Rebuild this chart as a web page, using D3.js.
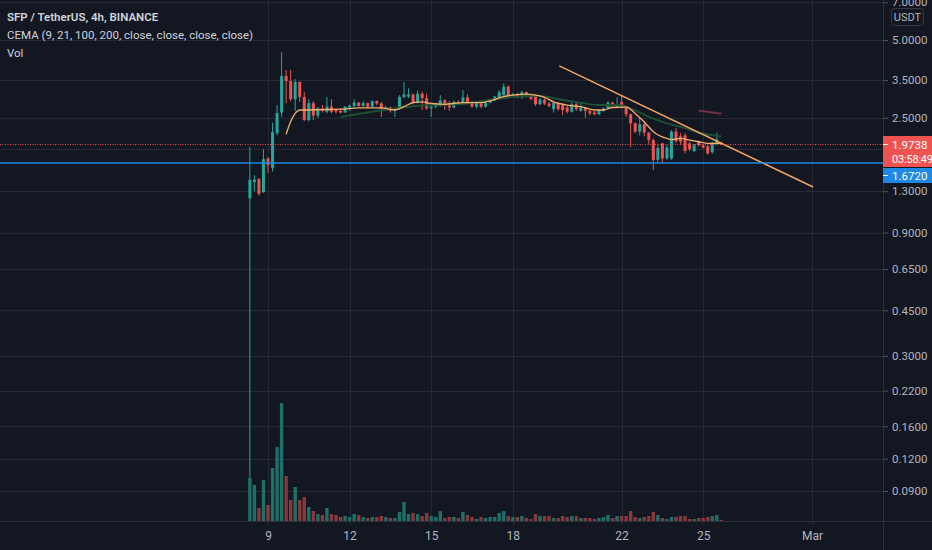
<!DOCTYPE html>
<html lang="en">
<head>
<meta charset="utf-8">
<title>SFP / TetherUS, 4h, BINANCE</title>
<style>
  html, body { margin: 0; padding: 0; background: #131722; overflow: hidden; }
  svg { display: block; }
</style>
</head>
<body>
<div id="chart"></div>
<script src="https://d3js.org/d3.v7.min.js"></script>
<script>
// 4h candles, first one opens Feb 8 2021 08:00 UTC
var firstBar = Date.UTC(2021, 1, 8, 8);
var barMs = 4 * 3600 * 1000;

var opens = [1.22, 1.41, 1.45, 1.29, 1.74, 1.60, 2.18, 2.62, 3.63, 3.47,
  2.95, 3.44, 3.01, 2.45, 2.85, 2.55, 2.72, 2.64, 2.76, 2.68,
  2.66, 2.62, 2.74, 2.78, 2.86, 2.78, 2.85, 2.76, 2.90, 2.84,
  2.70, 2.74, 2.66, 2.70, 3.01, 3.02, 3.08, 2.86, 3.10, 2.98,
  2.72, 2.76, 2.78, 2.92, 2.84, 2.74, 2.88, 2.82, 3.00, 2.88,
  2.76, 2.84, 2.76, 2.86, 2.92, 3.00, 3.06, 3.30, 3.06, 3.08,
  3.00, 3.14, 3.04, 3.06, 2.82, 2.94, 2.84, 2.70, 2.86, 2.80,
  2.74, 2.64, 2.82, 2.66, 2.74, 2.66, 2.62, 2.58, 2.66, 2.72,
  2.86, 2.76, 2.88, 2.76, 2.58, 2.38, 2.21, 2.36, 2.19, 2.05,
  1.72, 1.99, 1.74, 1.74, 2.21, 2.12, 2.14, 1.99, 1.86, 2.02,
  1.96, 1.94, 1.84, 1.99, 2.00];
var highs = [1.93, 1.50, 1.46, 1.89, 1.76, 2.39, 2.80, 4.49, 3.83, 3.83,
  3.53, 3.46, 3.15, 2.95, 2.90, 2.75, 2.80, 3.01, 2.95, 2.72,
  2.72, 2.78, 2.82, 2.95, 2.88, 2.90, 2.86, 2.92, 2.92, 2.88,
  2.78, 2.76, 2.72, 3.06, 3.44, 3.25, 3.10, 3.18, 3.16, 3.10,
  2.80, 2.84, 3.06, 2.96, 2.90, 2.92, 2.92, 3.20, 3.08, 2.90,
  2.88, 2.92, 2.88, 2.94, 3.04, 3.20, 3.40, 3.34, 3.12, 3.12,
  3.18, 3.16, 3.08, 3.08, 2.98, 2.97, 2.88, 2.88, 2.88, 2.84,
  2.78, 2.86, 2.86, 2.88, 2.76, 2.68, 2.66, 2.70, 2.74, 2.90,
  2.88, 3.00, 3.04, 2.78, 2.60, 2.40, 2.50, 2.38, 2.20, 2.08,
  1.97, 2.00, 1.96, 2.24, 2.28, 2.18, 2.18, 2.02, 1.98, 2.04,
  1.98, 1.96, 2.02, 2.19, 2.02];
var lows = [0.10, 1.30, 1.25, 1.28, 1.53, 1.55, 2.14, 2.52, 2.85, 2.90,
  2.66, 2.88, 2.43, 2.42, 2.45, 2.50, 2.62, 2.60, 2.60, 2.60,
  2.60, 2.62, 2.66, 2.74, 2.76, 2.76, 2.72, 2.76, 2.80, 2.52,
  2.66, 2.62, 2.52, 2.68, 2.98, 2.98, 2.82, 2.84, 2.68, 2.68,
  2.52, 2.72, 2.76, 2.68, 2.66, 2.72, 2.80, 2.80, 2.86, 2.74,
  2.72, 2.72, 2.74, 2.84, 2.90, 2.98, 3.04, 2.98, 3.00, 2.98,
  2.96, 3.00, 2.92, 2.78, 2.80, 2.80, 2.74, 2.62, 2.66, 2.56,
  2.60, 2.62, 2.66, 2.64, 2.50, 2.56, 2.56, 2.56, 2.64, 2.70,
  2.76, 2.74, 2.72, 2.52, 1.93, 2.18, 2.14, 2.12, 1.97, 1.57,
  1.68, 1.67, 1.72, 1.72, 2.00, 1.96, 1.82, 1.86, 1.84, 1.94,
  1.90, 1.80, 1.82, 1.97, 1.96];
var closes = [1.44, 1.44, 1.27, 1.73, 1.64, 2.20, 2.61, 3.63, 3.47, 2.95,
  3.44, 3.01, 2.45, 2.85, 2.55, 2.72, 2.66, 2.76, 2.64, 2.64,
  2.62, 2.76, 2.78, 2.86, 2.78, 2.85, 2.76, 2.90, 2.84, 2.70,
  2.74, 2.66, 2.70, 3.01, 3.08, 3.08, 2.86, 3.10, 2.98, 2.72,
  2.76, 2.82, 2.92, 2.82, 2.74, 2.88, 2.82, 3.00, 2.88, 2.76,
  2.84, 2.76, 2.86, 2.92, 3.02, 3.14, 3.30, 3.06, 3.08, 3.00,
  3.14, 3.04, 2.96, 2.82, 2.94, 2.84, 2.78, 2.86, 2.70, 2.68,
  2.64, 2.82, 2.70, 2.74, 2.66, 2.60, 2.58, 2.68, 2.72, 2.86,
  2.80, 2.82, 2.76, 2.58, 2.38, 2.21, 2.36, 2.19, 2.05, 1.72,
  1.91, 1.74, 1.92, 2.21, 2.03, 2.02, 1.86, 1.89, 1.96, 1.96,
  1.92, 1.82, 2.00, 2.06, 1.9738];
// volume, millions of SFP
var volumes = [4.3, 3.6, 1.3, 4.1, 1.6, 5.3, 7.4, 11.8, 4.5, 2.1,
  3.4, 2.1, 2.4, 1.4, 1.0, 0.7, 0.6, 1.3, 0.7, 0.6,
  0.4, 0.5, 0.4, 0.7, 0.6, 0.4, 0.3, 0.4, 0.4, 0.5,
  0.4, 0.3, 0.3, 0.9, 1.9, 0.7, 0.8, 0.7, 0.5, 0.8,
  0.5, 0.4, 1.0, 0.3, 0.4, 0.4, 0.3, 0.9, 0.6, 0.4,
  0.2, 0.4, 0.3, 0.4, 0.4, 0.8, 1.0, 0.5, 0.4, 0.4,
  0.5, 0.3, 0.2, 0.7, 0.5, 0.5, 0.5, 0.3, 0.3, 0.5,
  0.4, 0.5, 0.5, 0.3, 0.3, 0.3, 0.2, 0.3, 0.4, 0.6,
  0.3, 0.5, 0.5, 0.5, 1.0, 0.4, 0.3, 0.4, 0.5, 0.9,
  0.6, 0.3, 0.2, 0.4, 0.4, 0.5, 0.5, 0.2, 0.2, 0.3,
  0.3, 0.4, 0.5, 0.6, 0.1];

// CEMA lines: [bar, value]
var ema9 = [[8, 2.16], [9, 2.42], [10, 2.60], [11, 2.68], [12, 2.68], [16, 2.69], [20, 2.70],
  [24, 2.73], [29, 2.73], [32, 2.68], [34, 2.76], [36, 2.86], [38, 2.88], [40, 2.84],
  [43, 2.82], [47, 2.86], [51, 2.86], [53, 2.91], [56, 3.02], [58, 3.06], [61, 3.09],
  [63, 3.06], [65, 3.00], [67, 2.88], [70, 2.80], [73, 2.76], [76, 2.68], [78, 2.68],
  [80, 2.74], [83, 2.75], [85, 2.60], [87, 2.41], [89, 2.21], [92, 2.08], [93, 2.06],
  [95, 2.08], [97, 2.05], [99, 2.02], [101, 1.99], [104, 1.99]];
var ema21 = [[20, 2.52], [27, 2.64], [35, 2.76], [40, 2.80], [47, 2.83], [54, 2.95],
  [62, 3.04], [65, 3.02], [69, 2.93], [73, 2.86], [77, 2.80], [81, 2.80], [84, 2.72],
  [88, 2.52], [92, 2.38], [96, 2.28], [99, 2.19], [103, 2.13], [104, 2.12]];
var ema100 = [[99, 2.67], [104, 2.59]];

// drawn trend line
var trendLine = [[Date.UTC(2021, 1, 19, 17), 3.97], [Date.UTC(2021, 2, 1, 1), 1.35]];

var lastPrice = 1.9738;
var lastTimer = "03:58:49";
var bluePrice = 1.6720;

var gridPrices = [7, 5, 3.5, 2.5, 1.9, 1.3, 0.9, 0.65, 0.45, 0.3, 0.22, 0.16, 0.12, 0.09];
var priceTicks = [7, 5, 3.5, 2.5, 1.3, 0.9, 0.65, 0.45, 0.3, 0.22, 0.16, 0.12, 0.09];
var timeTicks = [Date.UTC(2021, 1, 9), Date.UTC(2021, 1, 12), Date.UTC(2021, 1, 15),
  Date.UTC(2021, 1, 18), Date.UTC(2021, 1, 22), Date.UTC(2021, 1, 25), Date.UTC(2021, 2, 1)];
var timeLabels = ["9", "12", "15", "18", "22", "25", "Mar"];

var W = 932, H = 550, plotW = 883, plotH = 521;
var up = "#26a69a", down = "#ef5350", blue = "#1e88e5";
var font = "'Trebuchet MS', Roboto, 'Noto Sans', sans-serif";

var bars = closes.map(function(c, i) {
  return { t: firstBar + i * barMs, o: opens[i], h: highs[i], l: lows[i], c: c, v: volumes[i] };
});
function barTime(i) { return firstBar + i * barMs; }

var x = d3.scaleUtc()
  .domain([new Date(Date.UTC(2021, 1, 9)), new Date(Date.UTC(2021, 2, 1))])
  .range([268, 812]);
var y = d3.scaleLog().domain([0.09, 5]).range([491, 40]);
var yVol = d3.scaleLinear().domain([0, 12]).range([plotH, plotH - 120]);

var svg = d3.select("#chart").append("svg")
  .attr("width", W)
  .attr("height", H)
  .style("font-family", font);

svg.append("rect").attr("width", W).attr("height", H).attr("fill", "#131722");

svg.append("clipPath").attr("id", "plot")
  .append("rect").attr("width", plotW).attr("height", plotH);

var plot = svg.append("g").attr("clip-path", "url(#plot)");

// grid
plot.selectAll(".hgrid").data(gridPrices).enter().append("line")
  .attr("x1", 0).attr("x2", plotW)
  .attr("y1", function(d) { return Math.round(y(d)) + 0.5; })
  .attr("y2", function(d) { return Math.round(y(d)) + 0.5; })
  .attr("stroke", "#252935");
plot.selectAll(".vgrid").data(timeTicks).enter().append("line")
  .attr("x1", function(d) { return Math.round(x(d)) + 0.5; })
  .attr("x2", function(d) { return Math.round(x(d)) + 0.5; })
  .attr("y1", 0).attr("y2", plotH)
  .attr("stroke", "#252935");

// candles
var candle = plot.selectAll(".candle").data(bars).enter().append("g");
candle.append("line")
  .attr("x1", function(d) { return x(d.t); })
  .attr("x2", function(d) { return x(d.t); })
  .attr("y1", function(d) { return y(d.h); })
  .attr("y2", function(d) { return y(d.l); })
  .attr("stroke", function(d) { return d.c >= d.o ? up : down; })
  .attr("stroke-width", 1);
candle.append("rect")
  .attr("x", function(d) { return x(d.t) - 1.5; })
  .attr("width", 3)
  .attr("y", function(d) { return y(Math.max(d.o, d.c)); })
  .attr("height", function(d) { return Math.max(1, Math.abs(y(d.o) - y(d.c))); })
  .attr("fill", function(d) { return d.c >= d.o ? up : down; });

// volume on top, bottom of the pane
plot.selectAll(".vol").data(bars).enter().append("rect")
  .attr("x", function(d) { return x(d.t) - 1.7; })
  .attr("width", 3.4)
  .attr("y", function(d) { return yVol(d.v); })
  .attr("height", function(d) { return plotH - yVol(d.v); })
  .attr("fill", function(d) { return d.c >= d.o ? "#1f6f69" : "#87393c"; });

// CEMA lines
var emaLine = d3.line()
  .x(function(d) { return x(barTime(d[0])); })
  .y(function(d) { return y(d[1]); })
  .curve(d3.curveMonotoneX);
plot.append("path").attr("d", emaLine(ema21))
  .attr("fill", "none").attr("stroke", "#1c4f33").attr("stroke-width", 2);
plot.append("path").attr("d", emaLine(ema100))
  .attr("fill", "none").attr("stroke", "#6b3440").attr("stroke-width", 2);
plot.append("path").attr("d", emaLine(ema9))
  .attr("fill", "none").attr("stroke", "#f3b06a").attr("stroke-width", 1.3);

// trend line
plot.append("line")
  .attr("x1", x(trendLine[0][0])).attr("y1", y(trendLine[0][1]))
  .attr("x2", x(trendLine[1][0])).attr("y2", y(trendLine[1][1]))
  .attr("stroke", "#f0a55f").attr("stroke-width", 1.5);

// price lines
plot.append("line")
  .attr("x1", 0).attr("x2", plotW)
  .attr("y1", Math.round(y(lastPrice)) + 0.5).attr("y2", Math.round(y(lastPrice)) + 0.5)
  .attr("stroke", down).attr("stroke-dasharray", "1,1.5");
plot.append("line")
  .attr("x1", 0).attr("x2", W)
  .attr("y1", Math.round(y(bluePrice))).attr("y2", Math.round(y(bluePrice)))
  .attr("stroke", blue).attr("stroke-width", 1.3);

// borders
svg.append("line").attr("x1", 0).attr("x2", W).attr("y1", plotH + 0.5).attr("y2", plotH + 0.5)
  .attr("stroke", "#2a2e39");
svg.append("line").attr("x1", plotW + 0.5).attr("x2", plotW + 0.5).attr("y1", 0).attr("y2", H)
  .attr("stroke", "#2a2e39");

// price scale
var yAxis = svg.append("g")
  .attr("transform", "translate(" + plotW + ",0)")
  .call(d3.axisRight(y).tickValues(priceTicks).tickFormat(d3.format(".4f")).tickSize(5).tickPadding(4));
yAxis.select(".domain").remove();
yAxis.selectAll("line").attr("stroke", "#50535e");
yAxis.selectAll("text").attr("fill", "#b2b5be").attr("font-size", 11.5).attr("font-family", font);

// time scale
var xAxis = svg.append("g")
  .attr("transform", "translate(0," + plotH + ")")
  .call(d3.axisBottom(x).tickValues(timeTicks.map(function(d) { return new Date(d); }))
    .tickFormat(function(d, i) { return timeLabels[i]; }).tickSize(4).tickPadding(6));
xAxis.select(".domain").remove();
xAxis.selectAll("line").attr("stroke", "#2a2e39");
xAxis.selectAll("text").attr("fill", "#b2b5be").attr("font-size", 12).attr("font-family", font);

// USDT badge
svg.append("rect").attr("x", 891.5).attr("y", 8.5).attr("width", 32).attr("height", 17).attr("rx", 3)
  .attr("fill", "#131722").attr("stroke", "#363a45");
svg.append("text").attr("x", 907.5).attr("y", 21).attr("text-anchor", "middle")
  .attr("fill", "#b2b5be").attr("font-size", 11).text("USDT");

// last price label
var ly = Math.round(y(lastPrice));
svg.append("rect").attr("x", plotW).attr("y", ly - 8).attr("width", W - plotW).attr("height", 31)
  .attr("fill", down);
svg.append("line").attr("x1", plotW).attr("x2", plotW + 5).attr("y1", ly + 0.5).attr("y2", ly + 0.5)
  .attr("stroke", "#ffffff");
svg.append("text").attr("x", 892).attr("y", ly + 4.5).attr("fill", "#ffffff").attr("font-size", 11.5)
  .text(lastPrice.toFixed(4));
svg.append("text").attr("x", 892).attr("y", ly + 19).attr("fill", "#ffffff").attr("font-size", 11)
  .attr("letter-spacing", -0.2).text(lastTimer);

// blue line label, pushed below the last price label
svg.append("rect").attr("x", plotW).attr("y", ly + 24).attr("width", W - plotW).attr("height", 15)
  .attr("fill", blue);
svg.append("line").attr("x1", plotW).attr("x2", plotW + 5).attr("y1", ly + 31.5).attr("y2", ly + 31.5)
  .attr("stroke", "#ffffff");
svg.append("text").attr("x", 892).attr("y", ly + 35.5).attr("fill", "#ffffff").attr("font-size", 11.5)
  .text(bluePrice.toFixed(4));

// legend
svg.append("text").attr("x", 7).attr("y", 21).attr("fill", "#d1d4dc").attr("font-size", 11.5)
  .attr("font-weight", 600).text("SFP / TetherUS, 4h, BINANCE");
svg.append("text").attr("x", 7).attr("y", 39).attr("fill", "#d1d4dc").attr("font-size", 11.5)
  .text("CEMA (9, 21, 100, 200, close, close, close, close)");
svg.append("text").attr("x", 7).attr("y", 57).attr("fill", "#d1d4dc").attr("font-size", 11.5)
  .text("Vol");
</script>
</body>
</html>
